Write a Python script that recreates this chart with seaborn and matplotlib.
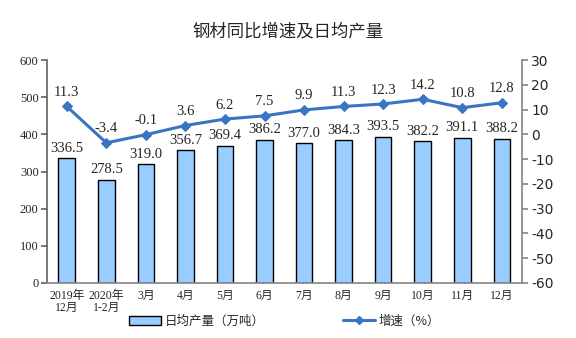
import numpy as np
import pandas as pd
import matplotlib
matplotlib.use("Agg")
import matplotlib.pyplot as plt
import seaborn as sns
from matplotlib.lines import Line2D
from matplotlib.patches import Patch

months = ["2019年\n12月", "2020年\n1-2月", "3月", "4月", "5月", "6月",
          "7月", "8月", "9月", "10月", "11月", "12月"]
daily_output = [336.5, 278.5, 319.0, 356.7, 369.4, 386.2,
                377.0, 384.3, 393.5, 382.2, 391.1, 388.2]
growth = [11.3, -3.4, -0.1, 3.6, 6.2, 7.5, 9.9, 11.3, 12.3, 14.2, 10.8, 12.8]

df = pd.DataFrame({"month": months, "output": daily_output, "growth": growth})
df["pos"] = np.arange(len(df))

sns.set_theme(style="white")
CJK = ["Noto Sans CJK SC", "DejaVu Sans"]
SERIF = ["Liberation Serif", "Noto Sans CJK SC"]
plt.rcParams["font.family"] = CJK
plt.rcParams["axes.unicode_minus"] = False

bar_color = "#99CCFF"
line_color = "#3A75C4"

fig = plt.figure(figsize=(5.76, 3.38), dpi=100)
ax = fig.add_axes([0.0816, 0.163, 0.824, 0.659])

sns.barplot(data=df, x="month", y="output", ax=ax, color=bar_color,
            edgecolor="black", linewidth=1.0, width=0.42, saturation=1)
ax.set_ylim(0, 600)
ax.set_xlim(-0.5, 11.5)
ax.set_yticks(np.arange(0, 601, 100))
ax.set_xlabel("")
ax.set_ylabel("")
for lab in ax.get_yticklabels():
    lab.set_fontfamily(SERIF)
    lab.set_fontsize(9)
ax.set_xticks(df["pos"])
ax.set_xticklabels(df["month"], fontsize=8.5, family=SERIF, linespacing=1.05)
ax.tick_params(axis="y", length=4, color="#666666", pad=2)
ax.set_xticks(np.arange(-0.5, 12, 1), minor=True)
ax.tick_params(axis="x", which="major", length=0, pad=5)
ax.tick_params(axis="x", which="minor", length=4, color="#888888", direction="out")
for s in ["top", "right"]:
    ax.spines[s].set_visible(False)
ax.spines["left"].set_color("#666666")
ax.spines["bottom"].set_color("#888888")

for x, v in zip(df["pos"], df["output"]):
    ax.text(x, v + 9, f"{v:.1f}", ha="center", va="bottom",
            fontsize=10.5, family=SERIF)

ax2 = ax.twinx()
sns.lineplot(data=df, x="pos", y="growth", ax=ax2, color=line_color,
             linewidth=2.2, marker="D", markersize=5, markeredgecolor=line_color)
ax2.set_ylim(-60, 30)
ax2.set_yticks(np.arange(-60, 31, 10))
ax2.set_xlim(-0.5, 11.5)
ax2.set_xlabel("")
ax2.set_ylabel("")
for lab in ax2.get_yticklabels():
    lab.set_fontfamily(["DejaVu Sans"])
    lab.set_fontsize(10)
ax2.tick_params(axis="y", length=4, color="#888888", pad=3, right=True)
for s in ["top", "left", "bottom"]:
    ax2.spines[s].set_visible(False)
ax2.spines["right"].set_color("#888888")

for x, v in zip(df["pos"], df["growth"]):
    ax2.text(x, v + 3.0, f"{v:.1f}", ha="center", va="bottom",
             fontsize=10.5, family=SERIF)

fig.suptitle("钢材同比增速及日均产量", x=0.5, y=0.935, fontsize=12.5,
             family=CJK)

handles = [Patch(facecolor=bar_color, edgecolor="black", linewidth=1.0),
           Line2D([0], [0], color=line_color, lw=2.2, marker="D", markersize=4)]
fig.legend(handles, ["日均产量（万吨）", "增速（%）"], loc="center",
           bbox_to_anchor=(0.494, 0.05), ncol=2, frameon=False,
           fontsize=9, columnspacing=6.2, handlelength=2.6, handletextpad=0.3)

fig.savefig("out.png", dpi=100)
